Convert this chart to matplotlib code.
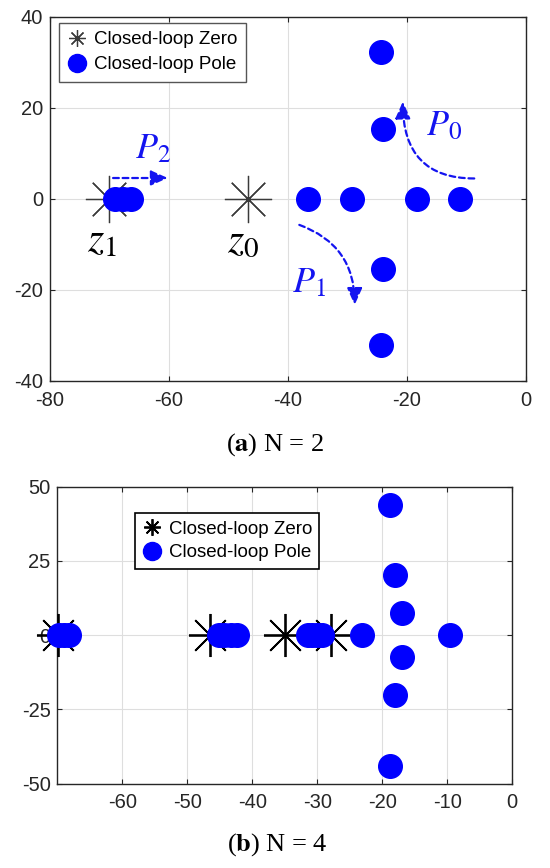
import numpy as np
import matplotlib.pyplot as plt
from matplotlib.lines import Line2D

plt.rcParams['font.family'] = ['Liberation Sans', 'DejaVu Sans']
plt.rcParams['axes.unicode_minus'] = False

# (a) N = 2 : closed-loop poles and zeros
poles_a_re = [-69.1, -67.8, -66.4, -36.6, -29.2, -18.4, -11.1,
              -24.3, -24.3, -24.0, -24.0]
poles_a_im = [0, 0, 0, 0, 0, 0, 0, 32.2, -32.2, 15.3, -15.3]
zeros_a_re = [-70.0, -46.7]
zeros_a_im = [0, 0]

# (b) N = 4
poles_b_re = [-69.8, -69.0, -68.2,
              -45.2, -44.3, -43.3, -42.4,
              -31.5, -30.8, -30.0, -29.3,
              -23.2, -9.6,
              -18.8, -18.8, -18.0, -18.0, -17.0, -17.0]
poles_b_im = [0, 0, 0, 0, 0, 0, 0, 0, 0, 0, 0, 0, 0,
              43.9, -43.9, 20.2, -20.2, 7.5, -7.5]
zeros_b_re = [-69.9, -46.5, -35.0, -27.9]
zeros_b_im = [0, 0, 0, 0]

blue = '#0000ff'
ann_blue = '#1414f0'
axis_col = '#262626'
star = (8, 2, 0)

fig = plt.figure(figsize=(5.5, 8.68), dpi=100)
ax1 = fig.add_axes([0.0909, 0.5611, 0.8655, 0.4194])
ax2 = fig.add_axes([0.1045, 0.0971, 0.8269, 0.3422])


def style_axes(ax, xlim, ylim, xticks, yticks):
    ax.set_xlim(*xlim)
    ax.set_ylim(*ylim)
    ax.set_xticks(xticks)
    ax.set_yticks(yticks)
    ax.grid(True, color='#dedede', linewidth=0.8)
    ax.set_axisbelow(True)
    ax.tick_params(direction='in', length=3.5, width=0.8, top=True, right=True,
                   labelsize=14.5, labelcolor=axis_col, color=axis_col)
    ax.tick_params(axis='x', pad=7)
    ax.tick_params(axis='y', pad=5)
    for s in ax.spines.values():
        s.set_color(axis_col)
        s.set_linewidth(1.0)


# ---- top panel ----
style_axes(ax1, (-80, 0), (-40, 40), range(-80, 1, 20), range(-40, 41, 20))
ax1.plot(zeros_a_re, zeros_a_im, linestyle='none', marker=star, markersize=34,
         markeredgewidth=0.9, color='#3a3a3a', clip_on=False, zorder=3)
ax1.plot(poles_a_re, poles_a_im, linestyle='none', marker='o', markersize=17,
         color=blue, clip_on=False, zorder=4)

h_zero_a = Line2D([], [], linestyle='none', marker=star, markersize=12,
                  markeredgewidth=0.9, color='#3a3a3a')
h_pole = Line2D([], [], linestyle='none', marker='o', markersize=13, color=blue)
leg1 = ax1.legend([h_zero_a, h_pole], ['Closed-loop Zero', 'Closed-loop Pole'],
                  loc='upper left', bbox_to_anchor=(0.019, 0.9835),
                  borderaxespad=0, fontsize=13.5, handlelength=1.0,
                  handletextpad=0.4, borderpad=0.45, labelspacing=0.4,
                  fancybox=False, framealpha=1)
leg1.get_frame().set_edgecolor('#555555')
leg1.get_frame().set_linewidth(1.0)

mt = dict(math_fontfamily='stix')
ax1.text(-65.7, 9.0, r'$P_2$', color=ann_blue, fontsize=26, va='baseline', **mt)
ax1.text(-16.8, 14.1, r'$P_0$', color=ann_blue, fontsize=26, va='baseline', **mt)
ax1.text(-39.3, -20.4, r'$P_1$', color=ann_blue, fontsize=26, va='baseline', **mt)
ax1.text(-73.8, -11.6, r'$z_1$', color='black', fontsize=30, va='baseline', **mt)
ax1.text(-50.3, -11.6, r'$z_0$', color='black', fontsize=30, va='baseline', **mt)

arrow_kw = dict(arrowstyle='-|>,head_length=0.85,head_width=0.38', color=ann_blue,
                linewidth=1.6, linestyle=(0, (2.6, 1.7)), shrinkA=0, shrinkB=0,
                mutation_scale=12)
ax1.annotate('', xy=(-60.2, 4.6), xytext=(-69.4, 4.6),
             arrowprops=dict(connectionstyle='arc3', **arrow_kw))
ax1.annotate('', xy=(-20.7, 21.4), xytext=(-8.7, 4.5),
             arrowprops=dict(connectionstyle='angle3,angleA=0,angleB=90', **arrow_kw))
ax1.annotate('', xy=(-28.8, -23.3), xytext=(-38.1, -5.7),
             arrowprops=dict(connectionstyle='angle3,angleA=-20,angleB=90', **arrow_kw))

# ---- bottom panel ----
style_axes(ax2, (-70, 0), (-50, 50), range(-60, 1, 10), range(-50, 51, 25))
ax2.plot(zeros_b_re, zeros_b_im, linestyle='none', marker=star, markersize=31,
         markeredgewidth=1.3, color='black', clip_on=False, zorder=3)
ax2.plot(poles_b_re, poles_b_im, linestyle='none', marker='o', markersize=17,
         color=blue, clip_on=False, zorder=4)

h_zero_b = Line2D([], [], linestyle='none', marker=star, markersize=12,
                  markeredgewidth=1.3, color='black')
leg2 = ax2.legend([h_zero_b, h_pole], ['Closed-loop Zero', 'Closed-loop Pole'],
                  loc='upper left', bbox_to_anchor=(0.170, 0.911),
                  borderaxespad=0, fontsize=13.5, handlelength=1.0,
                  handletextpad=0.4, borderpad=0.4, labelspacing=0.35,
                  fancybox=False, framealpha=1)
leg2.get_frame().set_edgecolor('black')
leg2.get_frame().set_linewidth(1.2)

# captions
fig.text(0.5, 0.4873, r'($\mathbf{a}$) N = 2', ha='center', va='center',
         fontsize=19, family='Liberation Serif', math_fontfamily='stix')
fig.text(0.505, 0.0265, r'($\mathbf{b}$) N = 4', ha='center', va='center',
         fontsize=19, family='Liberation Serif', math_fontfamily='stix')

fig.savefig('out.png', dpi=100)
